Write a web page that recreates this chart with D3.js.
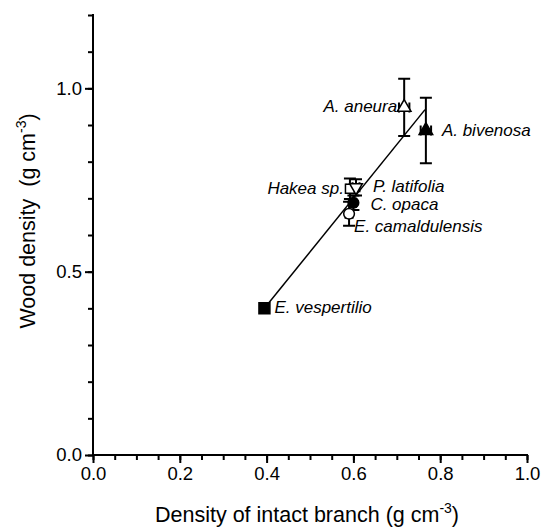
<!DOCTYPE html>
<html>
<head>
<meta charset="utf-8">
<script src="https://cdn.jsdelivr.net/npm/d3@7"></script>
<style>
  body { margin: 0; background: #fff; }
  text { font-family: "Liberation Sans", Arial, sans-serif; }
</style>
</head>
<body>
<svg id="chart"></svg>
<script>
//chart data
const species = ["E. vespertilio", "A. aneura", "A. bivenosa", "Hakea sp.", "P. latifolia", "C. opaca", "E. camaldulensis"];
const branchDensity = [0.395, 0.717, 0.767, 0.592, 0.606, 0.600, 0.590];
const woodDensity = [0.400, 0.948, 0.885, 0.726, 0.730, 0.688, 0.658];
const woodErr = [0.000, 0.078, 0.089, 0.028, 0.022, 0.020, 0.033];
const branchErr = [0.000, 0.012, 0.012, 0.008, 0.008, 0.006, 0.008];
const markers = ["squareFill", "triOpen", "triFill", "squareOpen", "triDownOpen", "circleFill", "circleOpen"];
//regression line end points
const fitX = [0.395, 0.765];
const fitY = [0.400, 0.942];
const xTicks = [0, 0.2, 0.4, 0.6, 0.8, 1.0];
const yTicks = [0, 0.5, 1.0];

//label placement (offset from point, anchor)
const labelPos = {
  "E. vespertilio": [10, 5, "start"],
  "A. aneura": [-7, 5, "end"],
  "A. bivenosa": [16, 5, "start"],
  "Hakea sp.": [-6, 5, "end"],
  "P. latifolia": [17, 5, "start"],
  "C. opaca": [17, 7, "start"],
  "E. camaldulensis": [5, 18, "start"]
};

const width = 542, height = 530;
const margin = {left: 93, right: 15, top: 15, bottom: 75};

const svg = d3.select("#chart").attr("width", width).attr("height", height);

const x = d3.scaleLinear().domain([0, 1]).range([margin.left, width - margin.right]);
const y = d3.scaleLinear().domain([0, 1.2]).range([height - margin.bottom, margin.top]);

//x axis: minor ticks then major ticks with labels
const xg = svg.append("g").attr("transform", `translate(0,${y(0)})`);
xg.call(d3.axisBottom(x).tickValues(d3.range(0, 1.0001, 0.05)).tickSize(5).tickFormat(""));
xg.selectAll(".tick line").attr("stroke-width", 2);
xg.select(".domain").remove();
const xg2 = svg.append("g").attr("transform", `translate(0,${y(0)})`);
xg2.call(d3.axisBottom(x).tickValues(xTicks).tickSize(8).tickPadding(4).tickFormat(d3.format(".1f")));
xg2.selectAll(".tick line").attr("stroke-width", 2);
xg2.selectAll("text").attr("font-size", 18.5).attr("font-family", "Liberation Sans, Arial").attr("fill", "#000");
xg2.select(".domain").attr("stroke-width", 2).attr("d", `M${x(0) - 1},0H${x(1) + 1}`);

//y axis
const yg = svg.append("g").attr("transform", `translate(${x(0)},0)`);
yg.call(d3.axisLeft(y).tickValues(d3.range(0, 1.2001, 0.1)).tickSize(5).tickFormat(""));
yg.selectAll(".tick line").attr("stroke-width", 2);
yg.select(".domain").remove();
const yg2 = svg.append("g").attr("transform", `translate(${x(0)},0)`);
yg2.call(d3.axisLeft(y).tickValues(yTicks).tickSize(8).tickPadding(3).tickFormat(d3.format(".1f")));
yg2.selectAll(".tick line").attr("stroke-width", 2);
yg2.selectAll("text").attr("font-size", 18.5).attr("font-family", "Liberation Sans, Arial").attr("fill", "#000");
yg2.select(".domain").attr("stroke-width", 2).attr("d", `M0,${y(1.2) - 1}V${y(0) + 1}`);

//axis titles
const xt = svg.append("text").attr("x", 307).attr("y", 522).attr("text-anchor", "middle").attr("font-size", 21.5);
xt.append("tspan").text("Density of intact branch (g cm");
xt.append("tspan").attr("dy", -9).attr("font-size", 14).text("-3");
xt.append("tspan").attr("dy", 9).text(")");

const yt = svg.append("text").attr("transform", "translate(35,221) rotate(-90)")
  .attr("text-anchor", "middle").attr("font-size", 21.5).style("white-space", "pre");
yt.append("tspan").text("Wood density  (g cm");
yt.append("tspan").attr("dy", -9).attr("font-size", 14).text("-3");
yt.append("tspan").attr("dy", 9).text(")");

//regression line
svg.append("line")
  .attr("x1", x(fitX[0])).attr("y1", y(fitY[0]))
  .attr("x2", x(fitX[1])).attr("y2", y(fitY[1]))
  .attr("stroke", "#000").attr("stroke-width", 1.5);

const pts = species.map((s, i) => ({name: s, bx: branchDensity[i], wd: woodDensity[i], e: woodErr[i], ex: branchErr[i], m: markers[i]}));

//error bars
const eb = svg.append("g").attr("stroke", "#000").attr("stroke-width", 2).attr("fill", "none");
pts.filter(d => d.e > 0).forEach(d => {
  const cx = x(d.bx), y1 = y(d.wd + d.e), y2 = y(d.wd - d.e);
  eb.append("path").attr("d", `M${cx},${y1}V${y2}M${cx - 6},${y1}H${cx + 6}M${cx - 6},${y2}H${cx + 6}`);
  const x1 = x(d.bx - d.ex), x2 = x(d.bx + d.ex), cy = y(d.wd);
  eb.append("path").attr("d", `M${x1},${cy}H${x2}M${x1},${cy - 5}V${cy + 5}M${x2},${cy - 5}V${cy + 5}`);
});

//markers
const symbolOf = {
  squareFill: [d3.symbolSquare, true, 120],
  squareOpen: [d3.symbolSquare, false, 80],
  triFill: [d3.symbolTriangle, true, 80],
  triOpen: [d3.symbolTriangle, false, 80],
  triDownOpen: [d3.symbolTriangle, false, 70],
  circleFill: [d3.symbolCircle, true, 90],
  circleOpen: [d3.symbolCircle, false, 90]
};
svg.append("g").selectAll("path")
  .data(pts)
  .join("path")
  .attr("transform", d => `translate(${x(d.bx)},${y(d.wd)})` + (d.m === "triDownOpen" ? " rotate(180)" : ""))
  .attr("d", d => d3.symbol().type(symbolOf[d.m][0]).size(symbolOf[d.m][2])())
  .attr("fill", d => symbolOf[d.m][1] ? "#000" : "#fff")
  .attr("stroke", "#000")
  .attr("stroke-width", 1.5);

//species labels
svg.append("g").selectAll("text")
  .data(pts)
  .join("text")
  .attr("x", d => x(d.bx) + labelPos[d.name][0])
  .attr("y", d => y(d.wd) + labelPos[d.name][1])
  .attr("text-anchor", d => labelPos[d.name][2])
  .attr("font-size", 17)
  .attr("font-style", "italic")
  .text(d => d.name);
</script>
</body>
</html>
